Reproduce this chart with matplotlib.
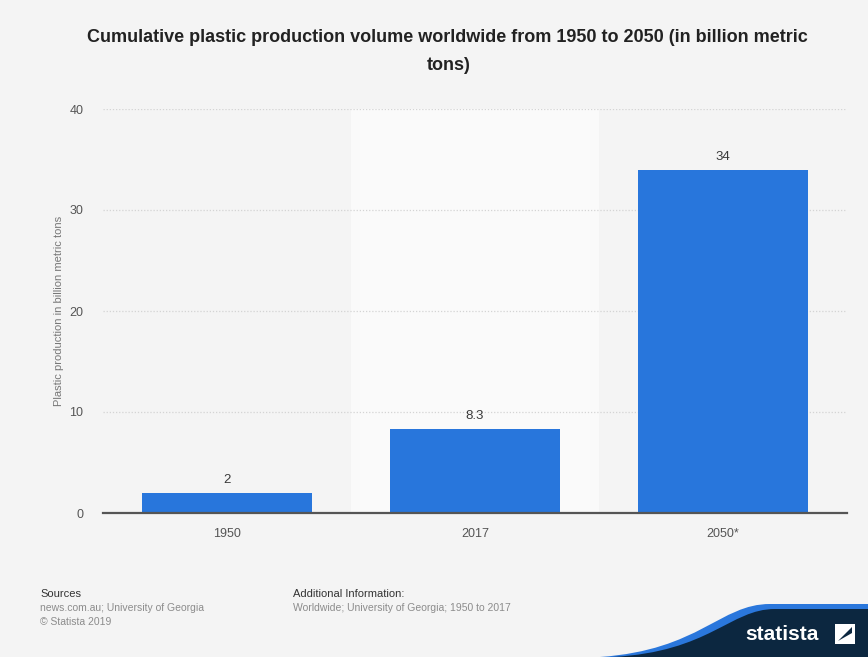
import matplotlib
matplotlib.use("Agg")
import matplotlib.pyplot as plt
from matplotlib.patches import Rectangle, PathPatch
from matplotlib.path import Path
import numpy as np

plt.rcParams['font.family'] = ['Liberation Sans', 'DejaVu Sans']

categories = ["1950", "2017", "2050*"]
values = [2, 8.3, 34]
value_labels = ["2", "8.3", "34"]
yticks = [0, 10, 20, 30, 40]

W, H = 868, 657
fig = plt.figure(figsize=(W / 100, H / 100), dpi=100)
fig.patch.set_facecolor("#f4f4f4")

ax = fig.add_axes([103 / W, (H - 513) / H, (847 - 103) / W, (513 - 109) / H])
ax.set_facecolor("#f4f4f4")
x = np.arange(len(categories))
ax.set_xlim(-0.5, len(categories) - 0.5)
ax.set_ylim(0, 40)

# highlighted band for middle category
ax.axvspan(0.5, 1.5, color="#fafafa", zorder=0, lw=0)

for yt in yticks[1:]:
    ax.axhline(yt, color="#d4d4d4", lw=0.9, ls=(0, (1, 1.5)), zorder=1)

ax.bar(x, values, width=0.685, color="#2876dc", zorder=3)
for xi, v, lab in zip(x, values, value_labels):
    ax.annotate(lab, (xi, v), xytext=(0, 5), textcoords="offset points",
                ha="center", va="bottom", fontsize=9.5, color="#3a3a3a")

ax.axhline(0, color="#555555", lw=1.6, zorder=4, clip_on=False)

for s in ax.spines.values():
    s.set_visible(False)
ax.set_xticks(x)
ax.set_xticklabels(categories, fontsize=9, color="#555555")
ax.set_yticks(yticks)
ax.set_yticklabels([str(t) for t in yticks], fontsize=9, color="#555555")
ax.tick_params(axis="both", length=0)
ax.tick_params(axis="x", pad=11)
ax.tick_params(axis="y", pad=14)
ax.set_ylabel("Plastic production in billion metric tons", fontsize=8, color="#777777", labelpad=4)

fig.text(447 / W, 1 - 37 / H,
         "Cumulative plastic production volume worldwide from 1950 to 2050 (in billion metric",
         ha="center", va="center", fontsize=13, fontweight="bold", color="#222222")
fig.text(449 / W, 1 - 66 / H, "tons)",
         ha="center", va="center", fontsize=13, fontweight="bold", color="#222222")

# footer
fig.text(40 / W, 1 - 594 / H, "Sources", fontsize=8, color="#333333", va="center")
fig.text(40 / W, 1 - 608 / H, "news.com.au; University of Georgia", fontsize=7.5, color="#8c8c8c", va="center")
fig.text(40 / W, 1 - 622 / H, "\u00a9 Statista 2019", fontsize=7.5, color="#8c8c8c", va="center")
fig.text(293 / W, 1 - 594 / H, "Additional Information:", fontsize=8, color="#333333", va="center")
fig.text(293 / W, 1 - 608 / H, "Worldwide; University of Georgia; 1950 to 2017", fontsize=7.5, color="#8c8c8c", va="center")

# logo wave
def fy(py):
    return 1 - py / H

def fx(px):
    return px / W

blue = Path([(fx(600), fy(657)), (fx(700), fy(650)), (fx(720), fy(604)), (fx(770), fy(604)),
             (fx(868), fy(604)), (fx(868), fy(657)), (fx(600), fy(657))],
            [Path.MOVETO, Path.CURVE4, Path.CURVE4, Path.CURVE4, Path.LINETO, Path.LINETO, Path.CLOSEPOLY])
fig.patches.append(PathPatch(blue, transform=fig.transFigure, facecolor="#2a77dc", lw=0))
navy = Path([(fx(612), fy(657)), (fx(710), fy(652)), (fx(730), fy(609)), (fx(775), fy(609)),
             (fx(868), fy(609)), (fx(868), fy(657)), (fx(612), fy(657))],
            [Path.MOVETO, Path.CURVE4, Path.CURVE4, Path.CURVE4, Path.LINETO, Path.LINETO, Path.CLOSEPOLY])
fig.patches.append(PathPatch(navy, transform=fig.transFigure, facecolor="#0c2740", lw=0))
fig.text(fx(745), fy(634), "statista", fontsize=15, fontweight="bold", color="white", va="center", ha="left")
fig.patches.append(Rectangle((fx(835), fy(644)), 20 / W, 20 / H, transform=fig.transFigure,
                             facecolor="white", lw=0))
fig.patches.append(PathPatch(Path([(fx(838), fy(641)), (fx(852), fy(627)), (fx(852), fy(633)), (fx(838), fy(641))],
                                  [Path.MOVETO, Path.LINETO, Path.LINETO, Path.CLOSEPOLY]),
                             transform=fig.transFigure, facecolor="#0c2740", lw=0))

fig.savefig("out.png", dpi=100, facecolor=fig.get_facecolor())
